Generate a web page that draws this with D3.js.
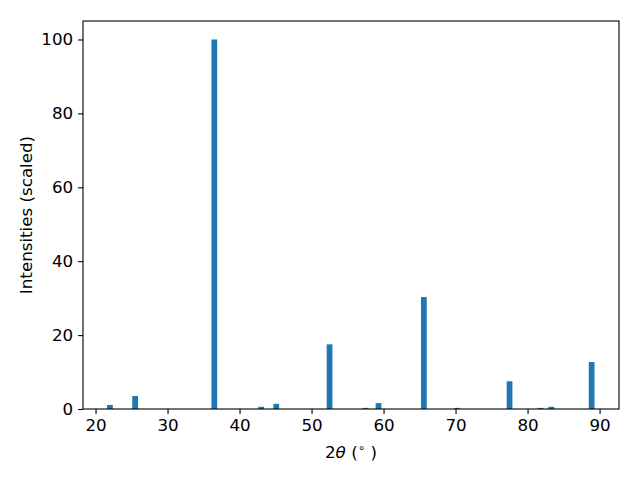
<!DOCTYPE html>
<html>
<head>
<meta charset="utf-8">
<script src="https://cdn.jsdelivr.net/npm/d3@7"></script>
<style>
  body { margin: 0; background: #fff; }
  text { font-family: "DejaVu Sans", sans-serif; }
</style>
</head>
<body>
<div id="chart"></div>
<script>
// peaks (2theta in degrees) and scaled intensities
const angles = [22.0, 25.5, 36.5, 43.0, 45.1, 52.5, 57.5, 59.3, 65.6, 70.2, 77.5, 81.8, 83.3, 88.9];
const intensities = [1.1, 3.5, 100, 0.6, 1.4, 17.5, 0.3, 1.6, 30.3, 0.3, 7.5, 0.3, 0.6, 12.7];
const xTicks = [20, 30, 40, 50, 60, 70, 80, 90];
const yTicks = [0, 20, 40, 60, 80, 100];
const barWidth = 0.8;

const w = 640, h = 480;
const mLeft = 83, mRight = 619, mTop = 21, mBottom = 409;
const fs = "16.7px";

let svg = d3.select("#chart")
            .append("svg")
            .attr("width", w)
            .attr("height", h);

let xScale = d3.scaleLinear()
               .domain([18.26, 92.7])
               .range([mLeft, mRight]);
let yScale = d3.scaleLinear()
               .domain([0, 105])
               .range([mBottom, mTop]);

// bars
svg.selectAll("rect.bar")
   .data(angles)
   .enter()
   .append("rect")
   .attr("class", "bar")
   .attr("x", (d) => xScale(d - barWidth / 2))
   .attr("width", xScale(barWidth) - xScale(0))
   .attr("y", (d, i) => yScale(intensities[i]))
   .attr("height", (d, i) => yScale(0) - yScale(intensities[i]))
   .attr("fill", "#1f77b4");

// axes
let xAxis = d3.axisBottom(xScale).tickValues(xTicks).tickSize(4.9).tickPadding(4.9);
let yAxis = d3.axisLeft(yScale).tickValues(yTicks).tickSize(4.9).tickPadding(4.9);

let gx = svg.append("g")
   .attr("transform", `translate(0, ${mBottom})`)
   .call(xAxis);
let gy = svg.append("g")
   .attr("transform", `translate(${mLeft}, 0)`)
   .call(yAxis);

[gx, gy].forEach((g) => {
  g.select(".domain").remove();
  g.selectAll("line").attr("stroke", "#000").attr("stroke-width", 1.1);
  g.selectAll("text")
   .attr("fill", "#000")
   .style("font-size", fs)
   .style("font-family", "DejaVu Sans, sans-serif");
});

// frame
svg.append("rect")
   .attr("x", mLeft)
   .attr("y", mTop)
   .attr("width", mRight - mLeft)
   .attr("height", mBottom - mTop)
   .attr("fill", "none")
   .attr("stroke", "#000")
   .attr("stroke-width", 1.1);

// axis labels
let xl = svg.append("text")
   .attr("x", (mLeft + mRight) / 2)
   .attr("y", 458)
   .attr("text-anchor", "middle")
   .style("font-size", fs);
xl.append("tspan").text("2");
xl.append("tspan").attr("font-style", "italic").text("θ");
xl.append("tspan").text(" (");
xl.append("tspan").attr("dy", -6).style("font-size", "12px").text("∘");
xl.append("tspan").attr("dy", 6).text(" )");

svg.append("text")
   .attr("transform", `translate(32, ${(mTop + mBottom) / 2}) rotate(-90)`)
   .attr("text-anchor", "middle")
   .style("font-size", fs)
   .text("Intensities (scaled)");
</script>
</body>
</html>
